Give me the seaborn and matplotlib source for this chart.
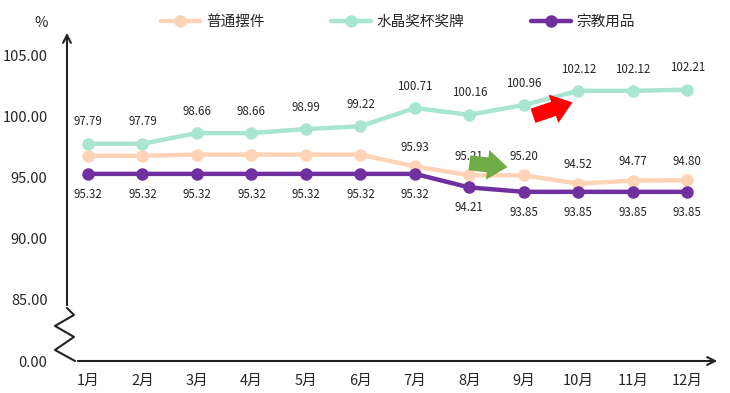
import matplotlib
matplotlib.use('Agg')
import matplotlib.pyplot as plt
from matplotlib.lines import Line2D
import pandas as pd
import seaborn as sns

months = ['1月', '2月', '3月', '4月', '5月', '6月', '7月', '8月', '9月', '10月', '11月', '12月']
series_names = ['普通摆件', '水晶奖杯奖牌', '宗教用品']
ordinary = [96.80, 96.80, 96.90, 96.90, 96.90, 96.90, 95.93, 95.21, 95.20, 94.52, 94.77, 94.80]
crystal = [97.79, 97.79, 98.66, 98.66, 98.99, 99.22, 100.71, 100.16, 100.96, 102.12, 102.12, 102.21]
religious = [95.32, 95.32, 95.32, 95.32, 95.32, 95.32, 95.32, 94.21, 93.85, 93.85, 93.85, 93.85]
y_ticks = [80, 85, 90, 95, 100, 105]
y_tick_labels = ['0.00', '85.00', '90.00', '95.00', '100.00', '105.00']

COLORS = ['#FFD3B6', '#A8E6CF', '#7030A0']

sns.set_style('white')
plt.rcParams['font.family'] = ['Noto Sans CJK SC', 'DejaVu Sans']

df = pd.DataFrame({
  'idx': list(range(len(months))) * 3,
  'value': ordinary + crystal + religious,
  'series': [s for s in series_names for _ in months],
})

px = 1 / 100
fig = plt.figure(figsize=(730 * px, 393 * px), dpi=100)
ax = fig.add_axes([67 / 730, 32 / 393, 653 / 730, 331 / 393])

sns.lineplot(data=df, x='idx', y='value', hue='series', hue_order=series_names,
             palette=COLORS, marker='o', markersize=9, markeredgewidth=0,
             linewidth=3.2, legend=False, ax=ax)

ax.set_xlim(-0.385, 11.6)
ax.set_ylim(80, 107.1)
for s in ax.spines.values():
  s.set_visible(False)

ax.set_xticks(range(len(months)))
ax.set_xticklabels(months, fontsize=10.5)
ax.set_yticks(y_ticks)
ax.set_yticklabels(y_tick_labels, fontsize=10.5)
ax.tick_params(axis='y', length=0, pad=14)
ax.tick_params(axis='x', length=0, pad=9)
ax.set_xlabel('')
ax.set_ylabel('')

# data labels
for i, v in enumerate(crystal):
  ax.annotate(f'{v:.2f}', (i, v), xytext=(0, 11), textcoords='offset points',
              ha='center', va='bottom', fontsize=8.3)
for i, v in enumerate(religious):
  ax.annotate(f'{v:.2f}', (i, v), xytext=(0, -10), textcoords='offset points',
              ha='center', va='top', fontsize=8.3)
for i, v in enumerate(ordinary):
  if i >= 6:
    ax.annotate(f'{v:.2f}', (i, v), xytext=(0, 9), textcoords='offset points',
                ha='center', va='bottom', fontsize=8.3)

# axes with arrows and the break mark
yt = ax.get_yaxis_transform()
ax.annotate('', xy=(0, 1), xycoords='axes fraction', xytext=(0, 84.34), textcoords=yt,
            arrowprops=dict(arrowstyle='->', color='#222222', lw=1.5, mutation_scale=14))
ax.annotate('', xy=(1, 80), xycoords=yt, xytext=(0.0123, 80), textcoords=yt,
            arrowprops=dict(arrowstyle='->', color='#222222', lw=1.5, mutation_scale=14))
zx = [0, 0.0107, -0.0184, 0.0107, -0.0184, 0.0123]
zy = [84.34, 83.77, 82.87, 81.97, 80.9, 80.0]
ax.plot(zx, zy, color='#222222', lw=1.5, transform=yt, clip_on=False)

ax.text(-0.04, 1.0, '%', transform=ax.transAxes, fontsize=10.5, ha='center', va='bottom')

# highlight arrows
ax.annotate('', xy=(8.94, 101.25), xytext=(8.12, 100.0),
            arrowprops=dict(arrowstyle='simple,head_width=1.2,head_length=0.8,tail_width=0.6',
                            color='#FF0000', lw=0, mutation_scale=18))
ax.annotate('', xy=(7.75, 95.85), xytext=(6.95, 96.25),
            arrowprops=dict(arrowstyle='simple,head_width=1.2,head_length=0.8,tail_width=0.6',
                            color='#70AD47', lw=0, mutation_scale=18))

handles = [Line2D([0], [0], color=c, lw=3.2, marker='o', markersize=9, markeredgewidth=0) for c in COLORS]
fig.legend(handles, series_names, loc='center', bbox_to_anchor=(0.545, 0.945), ncol=3,
           frameon=False, fontsize=10.5, handlelength=2.7, columnspacing=4.6, handletextpad=0.4)

fig.savefig('out.png', dpi=100)
